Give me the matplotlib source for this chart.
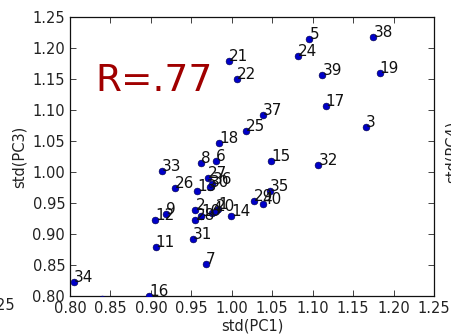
import matplotlib
matplotlib.use("Agg")
import matplotlib.pyplot as plt

# Per-subject standard deviations of principal components 1 and 3
subjects = [str(i) for i in range(1, 41)]
std_pc1 = [0.983, 0.955, 1.166, 0.976, 1.096, 0.980, 0.968, 0.962, 0.919, 0.962,
           0.906, 0.905, 0.957, 0.999, 1.049, 0.898, 1.116, 0.984, 1.183, 0.980,
           0.997, 1.006, 0.840, 1.082, 1.017, 0.930, 0.971, 0.955, 1.027, 0.973,
           0.952, 1.107, 0.914, 0.805, 1.047, 0.976, 1.038, 1.175, 1.112, 1.038]
std_pc3 = [0.940, 0.939, 1.072, 0.934, 1.214, 1.018, 0.851, 1.015, 0.932, 0.929,
           0.879, 0.923, 0.970, 0.929, 1.017, 0.800, 1.106, 1.047, 1.160, 0.937,
           1.179, 1.150, 0.795, 1.187, 1.066, 0.975, 0.990, 0.923, 0.953, 0.976,
           0.892, 1.012, 1.002, 0.823, 0.970, 0.980, 1.092, 1.217, 1.156, 0.949]
r_label = "R=.77"
ticks = [0.80, 0.85, 0.90, 0.95, 1.00, 1.05, 1.10, 1.15, 1.20, 1.25]

fig = plt.figure(figsize=(4.52, 3.36), dpi=100)
ax = fig.add_axes([70/452, 40/336, 364/452, 279/336])

ax.scatter(std_pc1, std_pc3, s=24, c="#0000c8", edgecolors="#000040",
           linewidths=0.4, zorder=3)
for name, x, y in zip(subjects, std_pc1, std_pc3):
    ax.annotate(name, (x, y), fontsize=11, color="#111111")

ax.text(0.831, 1.131, r_label, fontsize=27, color="#a00000")

ax.set_xlim(0.80, 1.25)
ax.set_ylim(0.80, 1.25)
ax.set_xticks(ticks)
ax.set_yticks(ticks)
ax.set_xticklabels([f"{t:.2f}" for t in ticks])
ax.set_yticklabels([f"{t:.2f}" for t in ticks])
ax.tick_params(direction="in", length=4, width=0.6, top=True, right=True,
               labelsize=10.5, colors="#222222")
for sp in ax.spines.values():
    sp.set_linewidth(0.9)
    sp.set_color("#111111")

ax.set_xlabel("std(PC1)", fontsize=10.5, labelpad=2, color="#222222")
ax.set_ylabel("std(PC3)", fontsize=10.5, labelpad=4, color="#222222")

# Fragments of the neighbouring panels
fig.text(15/452, 1 - 306/336, "1.25", fontsize=10.5, ha="right", va="center",
         color="#222222")
fig.text(445/452, 1 - 152/336, "std(PC4)", fontsize=10.5, rotation=90,
         ha="left", va="center", color="#222222")

fig.savefig("out.png", dpi=100)
